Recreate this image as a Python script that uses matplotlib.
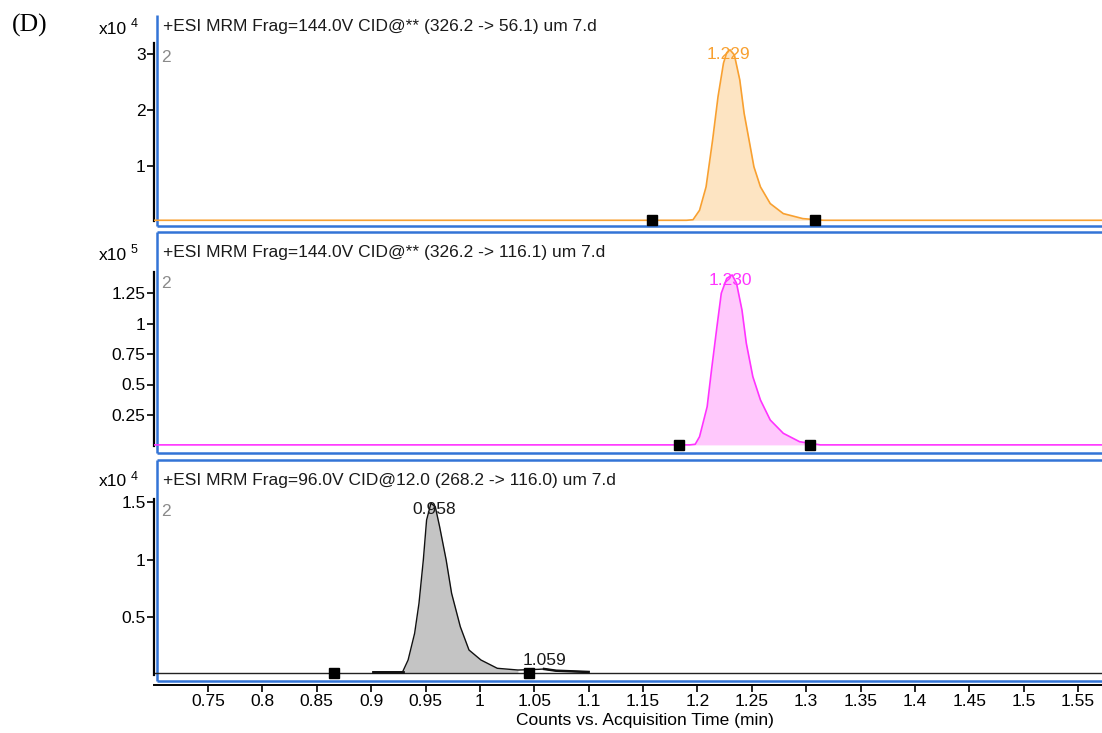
import numpy as np
import matplotlib
matplotlib.use("Agg")
import matplotlib.pyplot as plt

W, H = 1102, 733

# ---------------- data ----------------
titles = ["+ESI MRM Frag=144.0V CID@** (326.2 -> 56.1) um 7.d",
          "+ESI MRM Frag=144.0V CID@** (326.2 -> 116.1) um 7.d",
          "+ESI MRM Frag=96.0V CID@12.0 (268.2 -> 116.0) um 7.d"]
exponents = ["4", "5", "4"]

# panel 1: orange trace, counts x10^4
t1 = [0.700, 1.190, 1.196, 1.202, 1.208, 1.214, 1.219, 1.224, 1.227, 1.230,
      1.234, 1.239, 1.243, 1.248, 1.252, 1.258, 1.267, 1.279, 1.297, 1.316, 1.572]
y1 = [0.02, 0.02, 0.03, 0.20, 0.62, 1.46, 2.24, 2.84, 3.03, 3.08,
      2.99, 2.54, 1.94, 1.41, 0.98, 0.62, 0.32, 0.14, 0.05, 0.02, 0.02]

# panel 2: magenta trace, counts x10^5
t2 = [0.700, 1.193, 1.198, 1.202, 1.209, 1.213, 1.218, 1.222, 1.227, 1.232,
      1.236, 1.241, 1.245, 1.251, 1.258, 1.267, 1.279, 1.294, 1.313, 1.572]
y2 = [0.005, 0.005, 0.01, 0.072, 0.318, 0.619, 0.974, 1.248, 1.370, 1.398,
      1.330, 1.111, 0.838, 0.564, 0.373, 0.209, 0.100, 0.031, 0.005, 0.005]

# panel 3: black trace, counts x10^4
t3 = [0.902, 0.929, 0.934, 0.940, 0.944, 0.948, 0.951, 0.955, 0.959, 0.963,
      0.969, 0.974, 0.982, 0.990, 1.001, 1.016, 1.035, 1.054, 1.059, 1.070, 1.100]
y3 = [0.024, 0.024, 0.126, 0.358, 0.619, 0.996, 1.343, 1.489, 1.459, 1.285,
      0.996, 0.706, 0.416, 0.213, 0.126, 0.054, 0.039, 0.045, 0.048, 0.033, 0.022]
base3 = 0.016

# integration markers
marks1 = [1.158, 1.308]
marks2 = [1.183, 1.304]
marks3 = [0.866, 1.045]

peaks1 = [(1.229, "1.229")]
peaks2 = [(1.230, "1.230")]
peaks3 = [(0.958, "0.958"), (1.059, "1.059")]

yticks1 = [1, 2, 3]
yticks2 = [0.25, 0.5, 0.75, 1, 1.25]
yticks3 = [0.5, 1, 1.5]
xticks = [0.75, 0.8, 0.85, 0.9, 0.95, 1.0, 1.05, 1.1, 1.15, 1.2, 1.25,
          1.3, 1.35, 1.4, 1.45, 1.5, 1.55]

# ---------------- layout ----------------
plt.rcParams['font.family'] = ['Liberation Sans', 'DejaVu Sans']
FS = 12.5
fig = plt.figure(figsize=(W / 100, H / 100), dpi=100)


def px_axes(left, top, right, bottom):
    return fig.add_axes([left / W, 1 - bottom / H, (right - left) / W, (bottom - top) / H])


XMIN = 0.75 + (154 - 208) / 1087.5
XMAX = 0.75 + (1102 - 208) / 1087.5

# (top, bottom, zero pixel, px per unit, spine top)
panels = [(15, 227, 221.4, 55.7, 3.2),
          (232, 454, 445.5, 122.0, 1.42),
          (461, 684.5, 674.5, 115.0, 1.53)]

series = [
    (t1, y1, marks1, peaks1, yticks1, "#F8A030", "#FDE4C2", "#F8A030"),
    (t2, y2, marks2, peaks2, yticks2, "#FF33FF", "#FFC8FC", "#FF33FF"),
    (t3, y3, marks3, peaks3, yticks3, "#111111", "#C4C4C4", "#1a1a1a"),
]

axes = []
for i, (top, bot, zero, ppu, stop) in enumerate(panels):
    ax = px_axes(154, top, 1102, bot)
    ax.set_xlim(XMIN, XMAX)
    ax.set_ylim(-(bot - zero) / ppu, (zero - top) / ppu)
    t, y, marks, peaks, yt, lc, fc, tc = series[i]
    t = np.array(t)
    y = np.array(y)

    if i == 2:
        ax.plot([XMIN, XMAX], [base3, base3], color="#222222", lw=1.0, zorder=2)
        base = base3
    else:
        base = y[0]

    sel = (t >= marks[0]) & (t <= marks[1])
    ax.fill_between(t, base, y, where=sel, color=fc, lw=0, zorder=1, interpolate=True)
    ax.plot(t, y, color=lc, lw=1.2 if i < 2 else 1.0, zorder=3)
    if i == 2:
        ax.plot(t[:2], y[:2], color="#111111", lw=2.0, zorder=3)
        ax.plot(t[-3:], y[-3:], color="#111111", lw=1.8, zorder=3)

    ax.plot(marks, [base, base], ls="none", marker="s", ms=6.5, color="black",
            zorder=4)

    for pt, lab in peaks:
        yy = np.interp(pt, t, y)
        big = yy > 0.5 * max(y)
        ax.annotate(lab, (pt, yy), xytext=(0, -4 if big else 8),
                    textcoords="offset pixels", color=tc, fontsize=FS,
                    ha="center", va="center", zorder=5)

    ax.set_yticks(yt)
    ax.set_yticklabels([("%g" % v) for v in yt])
    ax.tick_params(axis="y", direction="out", length=5, width=1.2, pad=1,
                   labelsize=FS, colors="black")
    for s in ["top", "right", "bottom"]:
        ax.spines[s].set_visible(False)
    ax.spines["left"].set_bounds(0, stop)
    ax.spines["left"].set_linewidth(1.6)
    ax.patch.set_alpha(0)

    if i < 2:
        ax.set_xticks([])
    else:
        ax.spines["bottom"].set_visible(True)
        ax.spines["bottom"].set_linewidth(1.4)
        ax.set_xticks(xticks)
        ax.set_xticklabels([("%g" % v) for v in xticks])
        ax.tick_params(axis="x", direction="out", length=5, width=1.2, pad=2,
                       labelsize=FS)
    axes.append(ax)

# overlay in pixel coordinates for frames and labels
ov = fig.add_axes([0, 0, 1, 1], zorder=-1)
ov.set_xlim(0, W)
ov.set_ylim(H, 0)
ov.axis("off")

blue = "#3374D6"
frames = [(15, 226, False), (232, 453, True), (460, 681, True)]
for top, bot, has_top in frames:
    ov.plot([157, 157], [top, bot], color=blue, lw=1.8, solid_capstyle="butt")
    ov.plot([157, W + 5], [bot, bot], color=blue, lw=1.8, solid_capstyle="butt")
    if has_top:
        ov.plot([157, W + 5], [top, top], color=blue, lw=1.8, solid_capstyle="butt")

title_y = [27, 253, 480]
for i, ty in enumerate(title_y):
    fig.text(163 / W, 1 - ty / H, titles[i], fontsize=FS, ha="left", va="center",
             color="#1a1a1a")
    fig.text(127 / W, 1 - (ty + 2) / H, "x10", fontsize=FS, ha="right", va="center")
    fig.text(131 / W, 1 - (ty - 3) / H, exponents[i], fontsize=9, ha="left",
             va="center")

label2_y = [57, 284, 512]
for ly in label2_y:
    fig.text(161 / W, 1 - ly / H, "2", fontsize=FS, color="#8a8a8a", ha="left",
             va="center")

fig.text(12 / W, 1 - 25 / H, "(D)", fontsize=18.5, family="Liberation Serif",
         ha="left", va="center")
fig.text(645 / W, 1 - 721 / H, "Counts vs. Acquisition Time (min)", fontsize=FS,
         ha="center", va="center")

fig.savefig("out.png", dpi=100)
